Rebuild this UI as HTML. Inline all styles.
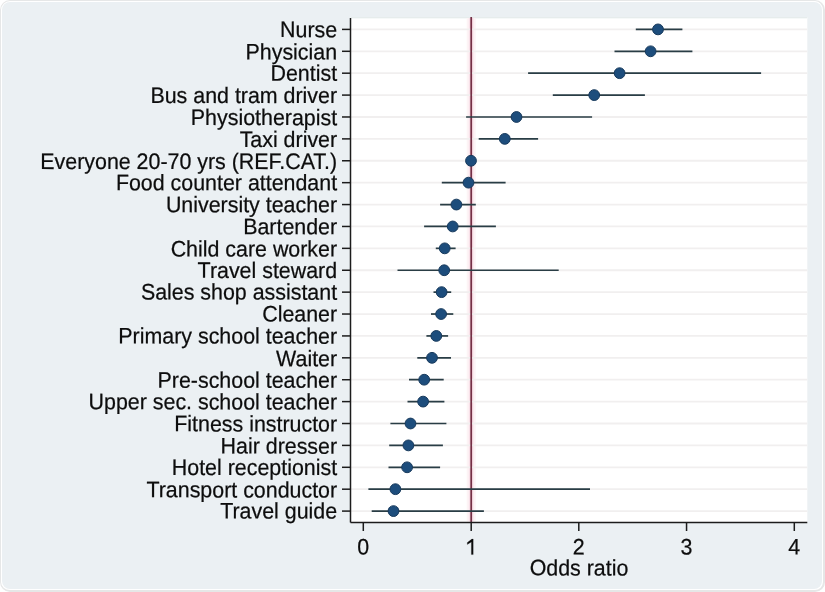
<!DOCTYPE html>
<html><head><meta charset="utf-8"><style>
html,body{margin:0;padding:0;background:#fff;width:825px;height:592px;overflow:hidden}
.frame{position:absolute;left:0;top:0;width:822px;height:589px;border:1px solid #e6e7e7;border-right-width:2px;border-bottom-width:2px;border-radius:10px;background:#fff}
.inner{position:absolute;left:2px;top:2px;width:820px;height:587px;border-radius:8px;background:#ebf0f3}
svg{position:absolute;left:0;top:0;will-change:transform}
text{font-family:"Liberation Sans",sans-serif;font-size:21.4px;fill:#0d0d0d;stroke:#0d0d0d;stroke-width:0.22px;text-rendering:geometricPrecision}
</style></head><body>
<div class="frame"></div>
<div class="inner"></div>
<svg width="825" height="592" viewBox="0 0 825 592">
<rect x="350.5" y="17" width="456.79999999999995" height="505.5" fill="#fff"/><line x1="350.5" x2="807.3" y1="17.5" y2="17.5" stroke="#e6ecec" stroke-width="1"/><line x1="350.5" x2="807.3" y1="18.5" y2="18.5" stroke="#f6f9f9" stroke-width="1"/>
<g stroke="#fdf4f6" stroke-width="9"><line x1="471.2" x2="471.2" y1="18" y2="521.5"/></g><g stroke="#fae6ec" stroke-width="5"><line x1="471.2" x2="471.2" y1="18" y2="521.5"/></g><g stroke="#f4d3dd" stroke-width="3"><line x1="471.2" x2="471.2" y1="18" y2="521.5"/></g>
<g stroke="#f1efef" stroke-width="1.8"><line x1="350.5" x2="807.3" y1="29.40" y2="29.40"/><line x1="350.5" x2="807.3" y1="51.30" y2="51.30"/><line x1="350.5" x2="807.3" y1="73.19" y2="73.19"/><line x1="350.5" x2="807.3" y1="95.09" y2="95.09"/><line x1="350.5" x2="807.3" y1="116.98" y2="116.98"/><line x1="350.5" x2="807.3" y1="138.88" y2="138.88"/><line x1="350.5" x2="807.3" y1="160.77" y2="160.77"/><line x1="350.5" x2="807.3" y1="182.66" y2="182.66"/><line x1="350.5" x2="807.3" y1="204.56" y2="204.56"/><line x1="350.5" x2="807.3" y1="226.46" y2="226.46"/><line x1="350.5" x2="807.3" y1="248.35" y2="248.35"/><line x1="350.5" x2="807.3" y1="270.25" y2="270.25"/><line x1="350.5" x2="807.3" y1="292.14" y2="292.14"/><line x1="350.5" x2="807.3" y1="314.03" y2="314.03"/><line x1="350.5" x2="807.3" y1="335.93" y2="335.93"/><line x1="350.5" x2="807.3" y1="357.82" y2="357.82"/><line x1="350.5" x2="807.3" y1="379.72" y2="379.72"/><line x1="350.5" x2="807.3" y1="401.61" y2="401.61"/><line x1="350.5" x2="807.3" y1="423.51" y2="423.51"/><line x1="350.5" x2="807.3" y1="445.40" y2="445.40"/><line x1="350.5" x2="807.3" y1="467.30" y2="467.30"/><line x1="350.5" x2="807.3" y1="489.19" y2="489.19"/><line x1="350.5" x2="807.3" y1="511.09" y2="511.09"/></g>
<g stroke="#743046" stroke-width="1.7"><line x1="471.2" x2="471.2" y1="17" y2="522.5"/></g>
<g stroke="#293d45" stroke-width="1.7"><line x1="635.8" x2="682.4" y1="29.40" y2="29.40"/><line x1="614.5" x2="692.4" y1="51.30" y2="51.30"/><line x1="528.1" x2="761.1" y1="73.19" y2="73.19"/><line x1="552.8" x2="644.9" y1="95.09" y2="95.09"/><line x1="466.1" x2="592.1" y1="116.98" y2="116.98"/><line x1="478.7" x2="538.1" y1="138.88" y2="138.88"/><line x1="441.8" x2="505.6" y1="182.66" y2="182.66"/><line x1="440.1" x2="475.8" y1="204.56" y2="204.56"/><line x1="424.1" x2="495.9" y1="226.46" y2="226.46"/><line x1="435.8" x2="455.6" y1="248.35" y2="248.35"/><line x1="397.5" x2="558.7" y1="270.25" y2="270.25"/><line x1="433.5" x2="451.2" y1="292.14" y2="292.14"/><line x1="431.0" x2="453.3" y1="314.03" y2="314.03"/><line x1="426.4" x2="448.1" y1="335.93" y2="335.93"/><line x1="417.3" x2="451.0" y1="357.82" y2="357.82"/><line x1="409.0" x2="443.7" y1="379.72" y2="379.72"/><line x1="407.5" x2="444.4" y1="401.61" y2="401.61"/><line x1="390.4" x2="446.4" y1="423.51" y2="423.51"/><line x1="389.2" x2="442.9" y1="445.40" y2="445.40"/><line x1="388.5" x2="440.1" y1="467.30" y2="467.30"/><line x1="368.4" x2="590.0" y1="489.19" y2="489.19"/><line x1="371.7" x2="483.9" y1="511.09" y2="511.09"/></g>
<g fill="#1d4d7c" stroke="#183a5c" stroke-width="1"><circle cx="658.0" cy="29.40" r="5.4"/><circle cx="650.6" cy="51.30" r="5.4"/><circle cx="619.6" cy="73.19" r="5.4"/><circle cx="594.2" cy="95.09" r="5.4"/><circle cx="516.5" cy="116.98" r="5.4"/><circle cx="504.8" cy="138.88" r="5.4"/><circle cx="471.0" cy="160.77" r="5.4"/><circle cx="468.5" cy="182.66" r="5.4"/><circle cx="456.4" cy="204.56" r="5.4"/><circle cx="452.7" cy="226.46" r="5.4"/><circle cx="444.7" cy="248.35" r="5.4"/><circle cx="444.2" cy="270.25" r="5.4"/><circle cx="441.6" cy="292.14" r="5.4"/><circle cx="441.1" cy="314.03" r="5.4"/><circle cx="436.3" cy="335.93" r="5.4"/><circle cx="432.0" cy="357.82" r="5.4"/><circle cx="424.2" cy="379.72" r="5.4"/><circle cx="423.1" cy="401.61" r="5.4"/><circle cx="410.5" cy="423.51" r="5.4"/><circle cx="408.4" cy="445.40" r="5.4"/><circle cx="407.1" cy="467.30" r="5.4"/><circle cx="395.4" cy="489.19" r="5.4"/><circle cx="393.5" cy="511.09" r="5.4"/></g>
<g stroke="#1c1c1c" stroke-width="1.5">
<line x1="350.5" x2="350.5" y1="18" y2="522.5"/>
<line x1="350.5" x2="807.3" y1="522.5" y2="522.5"/>
<line x1="342.0" x2="350.5" y1="29.40" y2="29.40"/><line x1="342.0" x2="350.5" y1="51.30" y2="51.30"/><line x1="342.0" x2="350.5" y1="73.19" y2="73.19"/><line x1="342.0" x2="350.5" y1="95.09" y2="95.09"/><line x1="342.0" x2="350.5" y1="116.98" y2="116.98"/><line x1="342.0" x2="350.5" y1="138.88" y2="138.88"/><line x1="342.0" x2="350.5" y1="160.77" y2="160.77"/><line x1="342.0" x2="350.5" y1="182.66" y2="182.66"/><line x1="342.0" x2="350.5" y1="204.56" y2="204.56"/><line x1="342.0" x2="350.5" y1="226.46" y2="226.46"/><line x1="342.0" x2="350.5" y1="248.35" y2="248.35"/><line x1="342.0" x2="350.5" y1="270.25" y2="270.25"/><line x1="342.0" x2="350.5" y1="292.14" y2="292.14"/><line x1="342.0" x2="350.5" y1="314.03" y2="314.03"/><line x1="342.0" x2="350.5" y1="335.93" y2="335.93"/><line x1="342.0" x2="350.5" y1="357.82" y2="357.82"/><line x1="342.0" x2="350.5" y1="379.72" y2="379.72"/><line x1="342.0" x2="350.5" y1="401.61" y2="401.61"/><line x1="342.0" x2="350.5" y1="423.51" y2="423.51"/><line x1="342.0" x2="350.5" y1="445.40" y2="445.40"/><line x1="342.0" x2="350.5" y1="467.30" y2="467.30"/><line x1="342.0" x2="350.5" y1="489.19" y2="489.19"/><line x1="342.0" x2="350.5" y1="511.09" y2="511.09"/><line x1="363.30" x2="363.30" y1="522.5" y2="531.0"/><line x1="471.20" x2="471.20" y1="522.5" y2="531.0"/><line x1="578.80" x2="578.80" y1="522.5" y2="531.0"/><line x1="686.55" x2="686.55" y1="522.5" y2="531.0"/><line x1="794.30" x2="794.30" y1="522.5" y2="531.0"/>
</g>
<g text-anchor="end"><text transform="translate(337.1 37.15) scale(1 1.05) rotate(0.03)">Nurse</text><text transform="translate(337.1 59.45) scale(1 1.05) rotate(0.03)">Physician</text><text transform="translate(337.1 80.75) scale(1 1.05) rotate(0.03)">Dentist</text><text transform="translate(337.1 103.05) scale(1 1.05) rotate(0.03)">Bus and tram driver</text><text transform="translate(337.1 125.15) scale(1 1.05) rotate(0.03)">Physiotherapist</text><text transform="translate(337.1 147.01) scale(1 1.05) rotate(0.03)">Taxi driver</text><text transform="translate(337.1 169.05) scale(1 1.05) rotate(0.03)">Everyone 20-70 yrs (REF.CAT.)</text><text transform="translate(337.1 190.35) scale(1 1.05) rotate(0.03)">Food counter attendant</text><text transform="translate(337.1 212.35) scale(1 1.05) rotate(0.03)">University teacher</text><text transform="translate(337.1 234.35) scale(1 1.05) rotate(0.03)">Bartender</text><text transform="translate(337.1 256.55) scale(1 1.05) rotate(0.03)">Child care worker</text><text transform="translate(337.1 277.95) scale(1 1.05) rotate(0.03)">Travel steward</text><text transform="translate(337.1 299.65) scale(1 1.05) rotate(0.03)">Sales shop assistant</text><text transform="translate(337.1 321.45) scale(1 1.05) rotate(0.03)">Cleaner</text><text transform="translate(337.1 343.65) scale(1 1.05) rotate(0.03)">Primary school teacher</text><text transform="translate(337.1 366.25) scale(1 1.05) rotate(0.03)">Waiter</text><text transform="translate(337.1 387.85) scale(1 1.05) rotate(0.03)">Pre-school teacher</text><text transform="translate(337.1 409.45) scale(1 1.05) rotate(0.03)">Upper sec. school teacher</text><text transform="translate(337.1 431.45) scale(1 1.05) rotate(0.03)">Fitness instructor</text><text transform="translate(337.1 453.65) scale(1 1.05) rotate(0.03)">Hair dresser</text><text transform="translate(337.1 475.05) scale(1 1.05) rotate(0.03)">Hotel receptionist</text><text transform="translate(337.1 497.45) scale(1 1.05) rotate(0.03)">Transport conductor</text><text transform="translate(337.1 518.55) scale(1 1.05) rotate(0.03)">Travel guide</text></g>
<g text-anchor="middle"><text transform="translate(363.30 554.6) scale(1 1.05) rotate(0.03)">0</text><path d="M473.2 539.1V554.6H471.35V541.9L467.3 544.5V542.6L471.9 539.1Z" fill="#0d0d0d" stroke="#0d0d0d" stroke-width="0.22"/><text transform="translate(578.80 554.6) scale(1 1.05) rotate(0.03)">2</text><text transform="translate(686.55 554.6) scale(1 1.05) rotate(0.03)">3</text><text transform="translate(794.30 554.6) scale(1 1.05) rotate(0.03)">4</text><text transform="translate(579 575.4) scale(1 1.05) rotate(0.03)">Odds ratio</text></g>
</svg>
</body></html>
